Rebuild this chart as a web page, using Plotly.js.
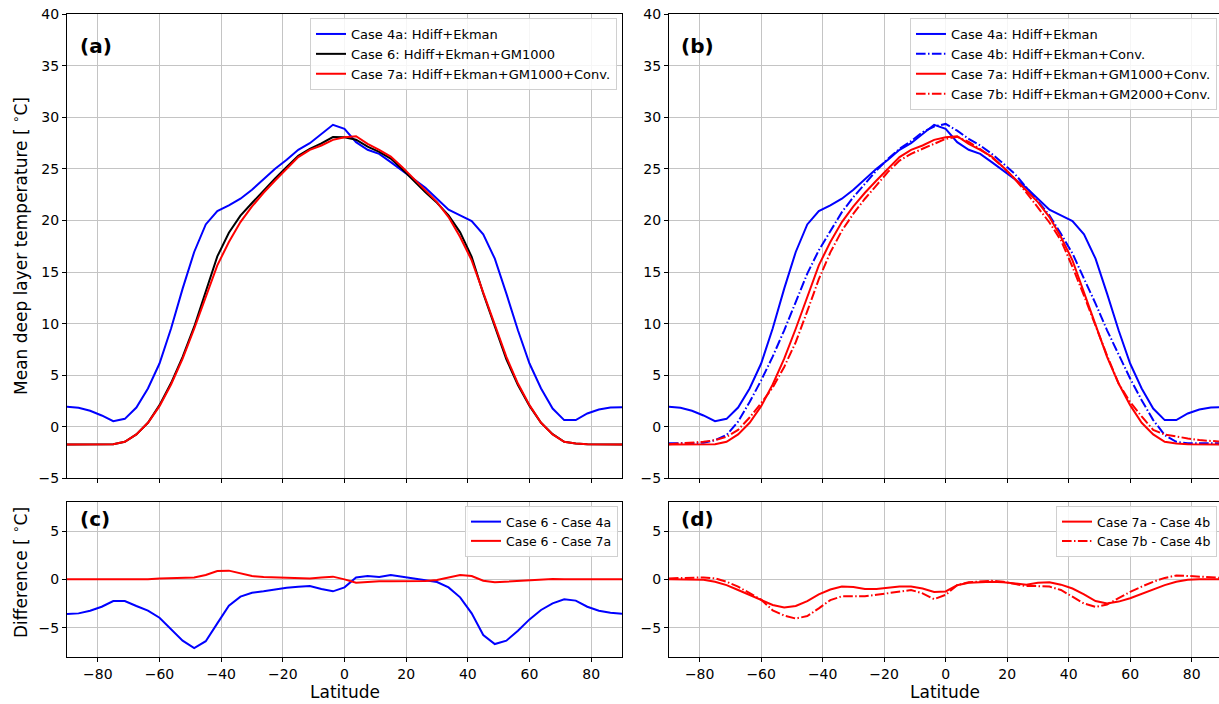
<!DOCTYPE html>
<html>
<head>
<meta charset="utf-8">
<script src="https://cdn.plot.ly/plotly-3.0.1.min.js"></script>
<style> body { margin: 0; background: #fff; } #plot { width: 1219px; height: 704px; } </style>
</head>
<body>
<div id="plot"></div>
<script>
// latitude grid (3.75 deg steps)
var lat = [-90,-86.25,-82.5,-78.75,-75,-71.25,-67.5,-63.75,-60,-56.25,-52.5,-48.75,-45,-41.25,-37.5,-33.75,-30,-26.25,-22.5,-18.75,-15,-11.25,-7.5,-3.75,
  0,3.75,7.5,11.25,15,18.75,22.5,26.25,30,33.75,37.5,41.25,45,48.75,52.5,56.25,60,63.75,67.5,71.25,75,78.75,82.5,86.25,90];

// mean deep layer temperature, deg C
var case4a = [1.94,1.84,1.55,1.10,0.55,0.77,1.87,3.71,6.13,9.52,13.39,16.94,19.61,20.9,21.45,22.1,22.97,24.03,25.0,25.87,26.84,27.48,28.39,29.26,
  28.87,27.58,26.84,26.45,25.65,24.84,24.03,23.16,22.1,21.03,20.48,19.94,18.65,16.29,12.9,9.35,6.13,3.71,1.77,0.65,0.65,1.29,1.68,1.87,1.9];
var case4b = [-1.6,-1.6,-1.6,-1.55,-1.3,-0.8,0.5,2.4,4.5,6.8,9.35,12.1,14.84,17.1,19.0,20.8,22.26,23.55,24.84,25.97,26.94,27.68,28.55,29.1,
  29.35,28.7,27.9,27.26,26.45,25.5,24.5,23.2,21.9,20.5,18.7,16.8,14.35,11.94,9.35,6.94,4.68,2.58,0.65,-0.8,-1.45,-1.6,-1.6,-1.6,-1.6];
var case6 = [-1.71,-1.71,-1.71,-1.70,-1.68,-1.45,-0.74,0.39,2.1,4.24,6.77,9.7,13.03,16.51,18.8,20.46,21.69,22.92,24.07,25.17,26.27,26.94,27.46,28.08,
  28.06,27.82,27.14,26.64,25.99,24.96,23.83,22.73,21.7,20.49,18.84,16.47,12.92,9.69,6.53,4.05,2.03,0.39,-0.71,-1.45,-1.61,-1.68,-1.70,-1.71,-1.71];
var case7a = [-1.71,-1.71,-1.71,-1.70,-1.68,-1.45,-0.74,0.39,2.0,4.1,6.6,9.5,12.58,15.65,17.9,19.84,21.35,22.68,23.87,25.0,26.13,26.84,27.26,27.8,
  28.06,28.16,27.42,26.84,26.19,25.16,24.03,22.9,21.77,20.32,18.39,16.13,13.06,10.0,6.77,4.19,2.1,0.39,-0.74,-1.45,-1.61,-1.68,-1.70,-1.71,-1.71];
var case7b = [-1.68,-1.6,-1.55,-1.45,-1.3,-0.97,-0.3,0.9,2.3,3.8,5.8,8.2,11.2,14.3,16.9,19.0,20.65,22.1,23.4,24.7,25.8,26.45,26.94,27.42,
  27.9,28.1,27.6,26.9,26.1,25.16,24.0,22.7,21.3,19.8,18.06,15.5,12.7,9.7,6.9,4.2,2.4,1.0,-0.3,-0.74,-0.97,-1.13,-1.29,-1.39,-1.45];

// differences, deg C
var diff6m4a = [-3.59,-3.52,-3.24,-2.83,-2.24,-2.24,-2.76,-3.24,-3.97,-5.17,-6.34,-7.1,-6.4,-4.55,-2.72,-1.79,-1.38,-1.24,-1.03,-0.86,-0.76,-0.69,-1.0,-1.24,
  -0.83,0.2,0.34,0.24,0.45,0.28,0.1,-0.07,-0.28,-0.83,-1.86,-3.52,-5.76,-6.69,-6.34,-5.31,-4.14,-3.17,-2.48,-2.07,-2.2,-2.83,-3.24,-3.45,-3.55];
var diff6m7a = [0,0,0,0,0,0,0,0,0.1,0.14,0.17,0.2,0.45,0.86,0.9,0.62,0.34,0.24,0.2,0.17,0.14,0.1,0.2,0.28,
  0,-0.34,-0.28,-0.2,-0.2,-0.2,-0.2,-0.17,-0.07,0.17,0.45,0.34,-0.14,-0.31,-0.24,-0.14,-0.07,0,0.03,0,0,0,0,0,0];
var diff7am4b = [0,0,0,-0.05,-0.25,-0.6,-1.1,-1.6,-2.1,-2.65,-2.9,-2.75,-2.25,-1.55,-1.05,-0.75,-0.8,-1.0,-1.0,-0.9,-0.75,-0.75,-0.95,-1.3,
  -1.25,-0.6,-0.35,-0.3,-0.25,-0.3,-0.45,-0.55,-0.35,-0.3,-0.55,-0.95,-1.55,-2.25,-2.5,-2.3,-1.95,-1.5,-1.1,-0.6,-0.25,-0.05,0,0,0];
var diff7bm4b = [0.1,0.15,0.15,0.2,0.1,-0.25,-0.75,-1.4,-2.1,-3.2,-3.75,-4.05,-3.8,-3.0,-2.15,-1.75,-1.75,-1.75,-1.6,-1.45,-1.25,-1.1,-1.45,-2.05,
  -1.6,-0.6,-0.3,-0.2,-0.15,-0.25,-0.5,-0.7,-0.7,-0.75,-1.1,-1.8,-2.5,-2.85,-2.6,-1.95,-1.3,-0.75,-0.25,0.15,0.4,0.35,0.3,0.2,0.15];

var xticks = [-80,-60,-40,-20,0,20,40,60,80];

// matplotlib-ish line styles
var blue='#0000ff', red='#ff0000', black='#000000';
var dashdot='9.6px,2.4px,1.5px,2.4px';
function ln(x,y,name,color,xa,ya,leg,dash) {
  return {x:x, y:y, name:name, type:'scatter', mode:'lines', xaxis:xa, yaxis:ya, legend:leg,
    line:{color:color, width:2, dash:dash||'solid'}};
}

var data = [
  ln(lat,case4a,'Case 4a: Hdiff+Ekman',blue,'x','y','legend'),
  ln(lat,case6,'Case 6: Hdiff+Ekman+GM1000',black,'x','y','legend'),
  ln(lat,case7a,'Case 7a: Hdiff+Ekman+GM1000+Conv.',red,'x','y','legend'),

  ln(lat,case4a,'Case 4a: Hdiff+Ekman',blue,'x2','y2','legend2'),
  ln(lat,case4b,'Case 4b: Hdiff+Ekman+Conv.',blue,'x2','y2','legend2',dashdot),
  ln(lat,case7a,'Case 7a: Hdiff+Ekman+GM1000+Conv.',red,'x2','y2','legend2'),
  ln(lat,case7b,'Case 7b: Hdiff+Ekman+GM2000+Conv.',red,'x2','y2','legend2',dashdot),

  ln(lat,diff6m4a,'Case 6 - Case 4a',blue,'x3','y3','legend3'),
  ln(lat,diff6m7a,'Case 6 - Case 7a',red,'x3','y3','legend3'),

  ln(lat,diff7am4b,'Case 7a - Case 4b',red,'x4','y4','legend4'),
  ln(lat,diff7bm4b,'Case 7b - Case 4b',red,'x4','y4','legend4',dashdot)
];

// figure is 1219x704, panel edges measured in px
W=1219; H=704;
function px(v){ return v/W; } function py(v){ return (H-v)/H; }
var tickfont = {family:'DejaVu Sans', size:14, color:'#000'};

function xax(dom,rng,labels,anchor,mirror) {
  return {domain:dom, range:rng, anchor:anchor, tickvals:xticks, showticklabels:labels,
    ticks:'outside', ticklen:4, tickcolor:'#000', tickfont:tickfont,
    showgrid:true, gridcolor:'#c4c4c4', gridwidth:1, zeroline:false,
    showline:true, linecolor:'#000', linewidth:1, mirror:mirror};
}
function yax(dom,rng,dt,anchor,mirror) {
  return {domain:dom, range:rng, anchor:anchor, dtick:dt, tick0:0,
    ticks:'outside', ticklen:4, tickcolor:'#000', tickfont:tickfont,
    showgrid:true, gridcolor:'#c4c4c4', gridwidth:1, zeroline:false,
    showline:true, linecolor:'#000', linewidth:1, mirror:mirror};
}
var xl=[px(67),px(622)], xr=[px(668.9),1];
var yt=[py(478.4),py(14)], yb=[py(656.7),py(502)];
var xrR=[-90,88.9]; // right panels run off the picture edge

function leg(x,y,fs) {
  return {x:x, y:y, xanchor:'right', yanchor:'top', bgcolor:'rgba(255,255,255,0.85)',
    bordercolor:'#d0d0d0', borderwidth:1, font:{family:'DejaVu Sans', size:fs, color:'#000'},
    tracegroupgap:0};
}
function lab(t,x,y) {
  return {text:'<b>'+t+'</b>', x:x, y:y, xref:'paper', yref:'paper', xanchor:'left', yanchor:'middle',
    showarrow:false, font:{family:'DejaVu Sans', size:20, color:'#000'}};
}
function tit(t,x,y,ang) {
  return {text:t, x:x, y:y, xref:'paper', yref:'paper', xanchor:'center', yanchor:'middle',
    textangle:ang, showarrow:false, font:{family:'DejaVu Sans', size:17, color:'#000'}};
}

var layout = {
  width:W, height:H, margin:{l:0,r:0,t:0,b:0}, paper_bgcolor:'#fff', plot_bgcolor:'#fff',
  showlegend:true,
  xaxis:xax(xl,[-90,90],false,'y',true),  yaxis:yax(yt,[-5,40],5,'x',true),
  xaxis2:xax(xr,xrR,false,'y2',true),     yaxis2:yax(yt,[-5,40],5,'x2',false),
  xaxis3:xax(xl,[-90,90],true,'y3',true), yaxis3:yax(yb,[-8,8],5,'x3',true),
  xaxis4:xax(xr,xrR,true,'y4',true),      yaxis4:yax(yb,[-8,8],5,'x4',false),
  legend:leg(px(617),py(18),13),
  legend2:leg(px(1217),py(18),13),
  legend3:leg(px(618),py(506),12.5),
  legend4:leg(px(1217),py(506),12.5),
  annotations:[
    lab('(a)',px(78),py(46)), lab('(b)',px(679),py(46)),
    lab('(c)',px(78),py(519)), lab('(d)',px(679),py(519)),
    tit('Mean deep layer temperature [ <sup>∘</sup>C]',px(20),py(246),-90),
    tit('Difference [ <sup>∘</sup>C]',px(20),py(573),-90),
    tit('Latitude',px(345),py(692),0),
    tit('Latitude',px(945),py(692),0)
  ]
};

Plotly.newPlot('plot', data, layout, {displayModeBar:false, staticPlot:true});
</script>
</body>
</html>
